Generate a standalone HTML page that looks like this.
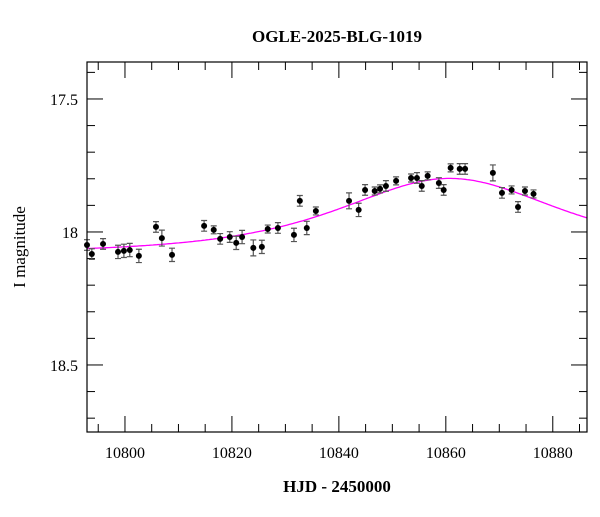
<!DOCTYPE html>
<html><head><meta charset="utf-8"><style>
body{margin:0;background:#fff}
svg text{font-family:"Liberation Serif",serif;fill:#000}
</style></head><body>
<svg id="chart" width="600" height="512" xmlns="http://www.w3.org/2000/svg">
<text x="337" y="42" text-anchor="middle" font-size="17" font-weight="bold">OGLE-2025-BLG-1019</text>
<text x="337" y="492" text-anchor="middle" font-size="17" font-weight="bold">HJD - 2450000</text>
<text transform="translate(25,247) rotate(-90)" text-anchor="middle" font-size="17">I magnitude</text>
<g id="ticks"></g>
<g id="model"></g>
<g id="points"></g>
<rect x="87" y="62" width="500" height="370" fill="none" stroke="#000" stroke-width="1.2"/>
</svg>
<script>
const days=[10792.9,10793.8,10795.9,10798.7,10799.8,10800.9,10802.6,10805.8,10806.9,10808.8,10814.8,10816.6,10817.8,10819.6,10820.8,10821.9,10824.0,10825.6,10826.7,10828.6,10831.6,10832.7,10834.0,10835.7,10841.9,10843.7,10844.9,10846.7,10847.7,10848.8,10850.7,10853.5,10854.6,10855.5,10856.6,10858.7,10859.6,10860.9,10862.6,10863.6,10868.8,10870.5,10872.3,10873.5,10874.8,10876.4];
const mags=[18.049,18.083,18.045,18.075,18.071,18.068,18.090,17.981,18.023,18.086,17.977,17.992,18.026,18.019,18.041,18.019,18.060,18.056,17.989,17.985,18.011,17.883,17.985,17.921,17.883,17.917,17.842,17.846,17.838,17.827,17.808,17.797,17.797,17.827,17.789,17.816,17.842,17.759,17.763,17.763,17.778,17.853,17.842,17.906,17.846,17.857];
const errs=[0.02,0.02,0.02,0.025,0.025,0.025,0.025,0.02,0.03,0.025,0.02,0.015,0.02,0.02,0.025,0.025,0.03,0.025,0.015,0.02,0.025,0.02,0.025,0.015,0.03,0.025,0.02,0.015,0.015,0.02,0.015,0.015,0.02,0.02,0.015,0.02,0.02,0.015,0.02,0.02,0.03,0.02,0.015,0.02,0.015,0.015];
const xTicks=[10800,10820,10840,10860,10880];
const yTicks=[17.5,18,18.5];
const modelT0=10860.7, modelTE=24.0, modelU0=1.07, modelBase=18.08;
const NS="http://www.w3.org/2000/svg";
const X0=87,X1=587,Y0=62,Y1=432;
const dMin=10792.9,dMax=10886.4,mMin=17.361,mMax=18.752;
const sx=d=>X0+(d-dMin)/(dMax-dMin)*(X1-X0);
const sy=m=>Y0+(m-mMin)/(mMax-mMin)*(Y1-Y0);
function mk(tag,attrs,parent){const e=document.createElementNS(NS,tag);for(const k in attrs)e.setAttribute(k,attrs[k]);parent.appendChild(e);return e;}
const tg=document.getElementById('ticks');
for(let d=10790;d<=10890;d+=5){const x=sx(d);if(x<X0||x>X1)continue;const maj=d%20===0;const L=maj?16:8;
 const t1=mk('line',{x1:x,x2:x,y1:Y1,y2:Y1-L,stroke:'#000'},tg);
 
 
 const t2=mk('line',{x1:x,x2:x,y1:Y0,y2:Y0+L,stroke:'#000'},tg);
 
 }
xTicks.forEach(d=>{const t=mk('text',{x:sx(d),y:458,'text-anchor':'middle','font-size':16},tg);t.textContent=String(d);
 
 });
for(let i=14;i<=28;i++){const m=i/20*1;const mm=Math.round(i*5)/100;}
for(let k=174;k<=187;k++){const m=k/10;const y=sy(m);if(y<Y0||y>Y1)continue;const maj=(k%5===0);const L=maj?16:8;
 const t1=mk('line',{x1:X0,x2:X0+L,y1:y,y2:y,stroke:'#000'},tg);
 
 
 const t2=mk('line',{x1:X1,x2:X1-L,y1:y,y2:y,stroke:'#000'},tg);
 
 }
yTicks.forEach(m=>{const t=mk('text',{x:78,y:sy(m)+6,'text-anchor':'end','font-size':16},tg);t.textContent=String(m);
 
 });
// model
let pts=[];for(let x=X0;x<=X1;x+=2){const d=dMin+(x-X0)/(X1-X0)*(dMax-dMin);const u=Math.sqrt(modelU0*modelU0+Math.pow((d-modelT0)/modelTE,2));const A=(u*u+2)/(u*Math.sqrt(u*u+4));pts.push(x.toFixed(1)+','+sy(modelBase-2.5*Math.log10(A)).toFixed(1));}
const ml=mk('polyline',{points:pts.join(' '),fill:'none',stroke:'#ff00ff','stroke-width':1.3},document.getElementById('model'));


const pg=document.getElementById('points');
days.forEach((d,i)=>{const x=sx(d),y=sy(mags[i]),e=errs[i];
 const ya=sy(mags[i]-e),yb=sy(mags[i]+e);
 const eb=mk('path',{d:`M${x},${ya}V${yb}M${x-3},${ya}H${x+3}M${x-3},${yb}H${x+3}`,stroke:'#555','stroke-width':1.2,fill:'none'},pg);
 
 
 const c=mk('circle',{cx:x,cy:y,r:3,fill:'#000'},pg);
 
 });
</script>
</body></html>
